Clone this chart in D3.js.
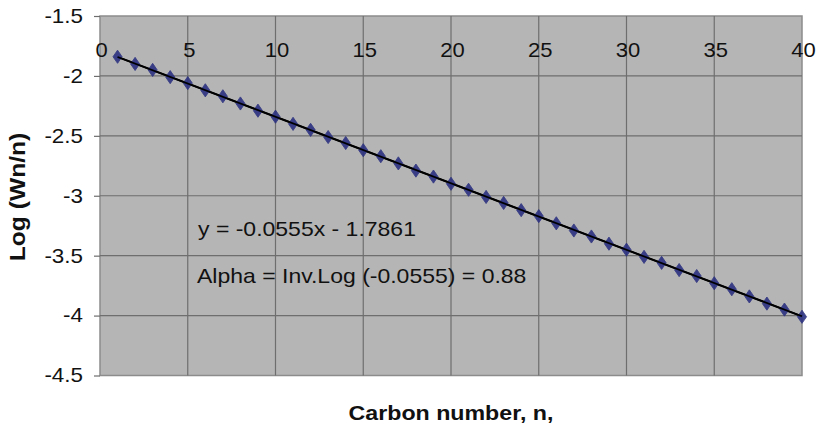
<!DOCTYPE html>
<html>
<head>
<meta charset="utf-8">
<script src="https://cdn.jsdelivr.net/npm/d3@7"></script>
<style>
html,body{margin:0;padding:0;background:#fff;}
svg{display:block;font-family:"Liberation Sans",Arial,sans-serif;}
</style>
</head>
<body>
<svg id="chart" width="817" height="428"></svg>
<script>
const carbonNumbers = d3.range(1, 41);
const logWn = [-1.84, -1.90, -1.95, -2.01, -2.06, -2.12, -2.17, -2.23, -2.29, -2.34,
               -2.40, -2.45, -2.51, -2.56, -2.62, -2.67, -2.73, -2.79, -2.84, -2.90,
               -2.95, -3.01, -3.06, -3.12, -3.17, -3.23, -3.29, -3.34, -3.40, -3.45,
               -3.51, -3.56, -3.62, -3.67, -3.73, -3.78, -3.84, -3.90, -3.95, -4.01];
const trendSlope = -0.0555, trendIntercept = -1.7861;
const xTicks = [0, 5, 10, 15, 20, 25, 30, 35, 40];
const yTicks = [-1.5, -2, -2.5, -3, -3.5, -4, -4.5];
const annotations = ["y = -0.0555x - 1.7861", "Alpha = Inv.Log (-0.0555) = 0.88"];

const svg = d3.select("#chart");
const L = 100, R = 802, T = 16, B = 375.5;
const x = d3.scaleLinear().domain([0, 40]).range([L, R]);
const y = d3.scaleLinear().domain([-1.5, -4.5]).range([T, B]);

svg.append("rect").attr("x", L).attr("y", T).attr("width", R - L).attr("height", B - T)
  .attr("fill", "#b5b5b5").attr("stroke", "#8c8c8c").attr("stroke-width", 1.5);

// grid
svg.append("g").selectAll("line").data(xTicks.slice(1, -1)).join("line")
  .attr("x1", d => x(d)).attr("x2", d => x(d)).attr("y1", T).attr("y2", B)
  .attr("stroke", "#6e6e6e").attr("stroke-width", 1.2);
svg.append("g").selectAll("line").data(yTicks.slice(1, -1)).join("line")
  .attr("x1", L).attr("x2", R).attr("y1", d => y(d)).attr("y2", d => y(d))
  .attr("stroke", "#6e6e6e").attr("stroke-width", 1.2);

// y axis
const yAxis = d3.axisLeft(y).tickValues(yTicks).tickSize(6).tickPadding(10)
  .tickFormat(d => String(d));
const gy = svg.append("g").attr("transform", `translate(${L},0)`).call(yAxis);
gy.select(".domain").remove();
gy.selectAll(".tick line").attr("stroke", "#6e6e6e").attr("stroke-width", 1.2);
gy.selectAll(".tick text").attr("font-size", 20).attr("fill", "#111")
  .attr("font-family", "Liberation Sans, Arial, sans-serif")
  .attr("x", 0).attr("transform", "translate(-17,0) scale(1.12,1)");

// x axis labels at top inside
const xAxis = d3.axisBottom(x).tickValues(xTicks).tickSize(0).tickPadding(0);
const gx = svg.append("g").attr("transform", `translate(0,${T})`).call(xAxis);
gx.select(".domain").remove();
gx.selectAll(".tick text").attr("font-size", 20).attr("fill", "#111")
  .attr("font-family", "Liberation Sans, Arial, sans-serif")
  .attr("y", 0).attr("dy", "0.35em").attr("transform", "translate(1,34) scale(1.1,1)");

// trendline
svg.append("line")
  .attr("x1", x(1)).attr("y1", y(trendSlope * 1 + trendIntercept))
  .attr("x2", x(40)).attr("y2", y(trendSlope * 40 + trendIntercept))
  .attr("stroke", "#000").attr("stroke-width", 2);

// markers
const sym = d3.symbol().type(d3.symbolDiamond).size(50);
svg.append("g").selectAll("path").data(carbonNumbers).join("path")
  .attr("d", sym)
  .attr("transform", (d, i) => `translate(${x(d)},${y(logWn[i])}) scale(1.2,1)`)
  .attr("fill", "#2b3180").attr("stroke", "#2b3180").attr("stroke-width", 0.8).attr("opacity", 0.9);

// trendline on top
svg.append("line")
  .attr("x1", x(1)).attr("y1", y(trendSlope * 1 + trendIntercept))
  .attr("x2", x(40)).attr("y2", y(trendSlope * 40 + trendIntercept))
  .attr("stroke", "#000").attr("stroke-width", 1.6);

// annotations
svg.append("text").attr("transform", "translate(198,236) scale(1.15,1)").attr("font-size", 20).attr("fill", "#111").text(annotations[0]);
svg.append("text").attr("transform", "translate(197,283) scale(1.15,1)").attr("font-size", 20).attr("fill", "#111").text(annotations[1]);

// axis titles
svg.append("text").attr("transform", "translate(25,197) rotate(-90) scale(1.12,1)").attr("text-anchor", "middle")
  .attr("font-size", 22).attr("font-weight", "bold").attr("fill", "#111").text("Log (Wn/n)");
svg.append("text").attr("transform", "translate(451,420) scale(1.16,1)").attr("text-anchor", "middle")
  .attr("font-size", 20).attr("font-weight", "bold").attr("fill", "#111").text("Carbon number, n,");
</script>
</body>
</html>
